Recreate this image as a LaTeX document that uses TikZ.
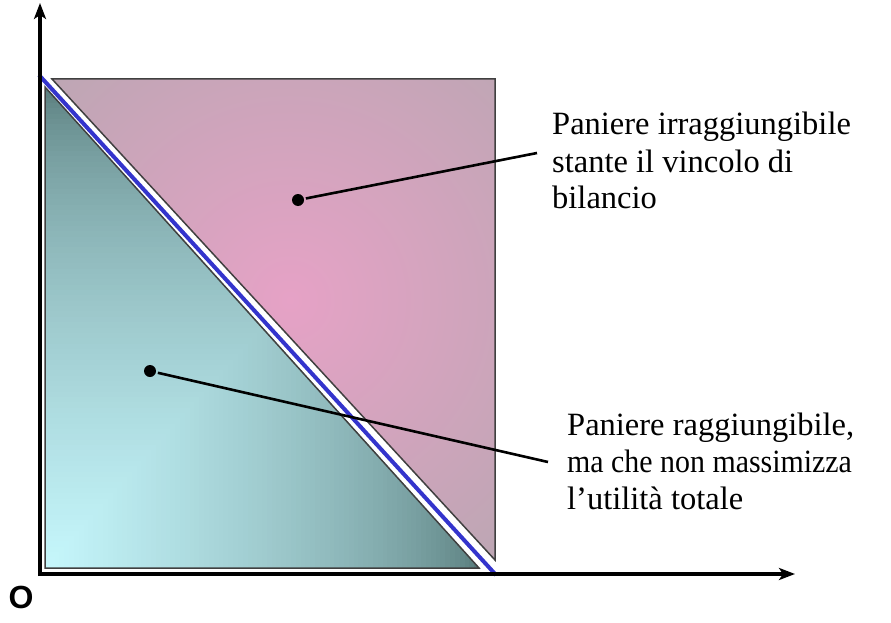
\documentclass[tikz,border=0pt]{standalone}
\usepackage{fontspec}
\setmainfont{Liberation Serif}
\newfontfamily\osans{Liberation Sans}
\usetikzlibrary{arrows.meta}
\definecolor{tealin}{HTML}{C6F7FC}
\definecolor{tealout}{HTML}{557878}
\definecolor{pinkin}{HTML}{E6A2C6}
\definecolor{pinkout}{HTML}{BEA6B4}
\definecolor{budget}{HTML}{3434CC}
\tikzset{
  axis/.style={line width=4pt,-{Stealth[length=16pt,width=12pt,inset=4pt]}},
  edge/.style={draw=black!75,line width=1.5pt,line join=miter},
  dot/.style={circle,fill=black,minimum size=12pt,inner sep=0pt,outer sep=2pt},
  leader/.style={line width=2.6pt},
  lbl/.style={anchor=base west,inner sep=0pt,font=\fontsize{32.5}{36.5}\selectfont},
}
\begin{document}
\begin{tikzpicture}[x=1pt,y=-1pt]
\useasboundingbox (0,0) rectangle (891,623);
% pink region
\begin{scope}
  \clip (52,79) -- (495,79) -- (495,560) -- cycle;
  \fill[pinkout] (0,0) rectangle (891,623);
  \shade[inner color=pinkin,outer color=pinkout] (290,300) circle (320pt);
\end{scope}
\draw[edge] (52,79) -- (495,79) -- (495,560) -- cycle;
% teal region (rectangular gradient from the lower left corner)
\begin{scope}
  \clip (45,87) -- (45,568) -- (479,568) -- cycle;
  \foreach \i in {0,...,89}{
    \pgfmathsetmacro\f{1-\i/90}
    \pgfmathsetmacro\p{100*(1-\f)^0.6}
    \pgfmathsetmacro\xx{45+434*\f}
    \pgfmathsetmacro\yy{568-481*\f}
    \fill[tealin!\p!tealout] (45,568) rectangle (\xx,\yy);
  }
\end{scope}
\draw[edge] (45,87) -- (45,568) -- (479,568) -- cycle;
% budget line
\coordinate (bA) at (39,75);
\coordinate (bB) at (496,575);
\draw[budget,line width=4pt] (bA) -- (bB);
% axes
\coordinate (o) at (40,574);
\coordinate (ytop) at (40,3);
\coordinate (xend) at (795,574);
\draw[axis] ([yshift=-2pt]o) -- (ytop);
\draw[axis] ([xshift=-2pt]o) -- (xend);
\node[font=\osans\bfseries\fontsize{32}{36}\selectfont,inner sep=0pt] (O) at (21,597) {O};
% labels
\node[lbl] (a1) at (552,135) {Paniere irraggiungibile};
\node[lbl] (a2) at (552,172) {stante il vincolo di};
\node[lbl] (a3) at (552,208) {bilancio};
\node[lbl] (b1) at (567,435) {Paniere raggiungibile,};
\node[lbl,xscale=0.92,transform shape] (b2) at (567,472) {ma che non massimizza};
\node[lbl] (b3) at (567,509) {l’utilità totale};
% dots and leaders
\node[dot] (d1) at (298,200) {};
\node[dot] (d2) at (150,371) {};
\coordinate (e1) at (537,153);
\coordinate (e2) at (548,462);
\draw[leader] (d1) -- (e1);
\draw[leader] (d2) -- (e2);
\end{tikzpicture}
\end{document}
